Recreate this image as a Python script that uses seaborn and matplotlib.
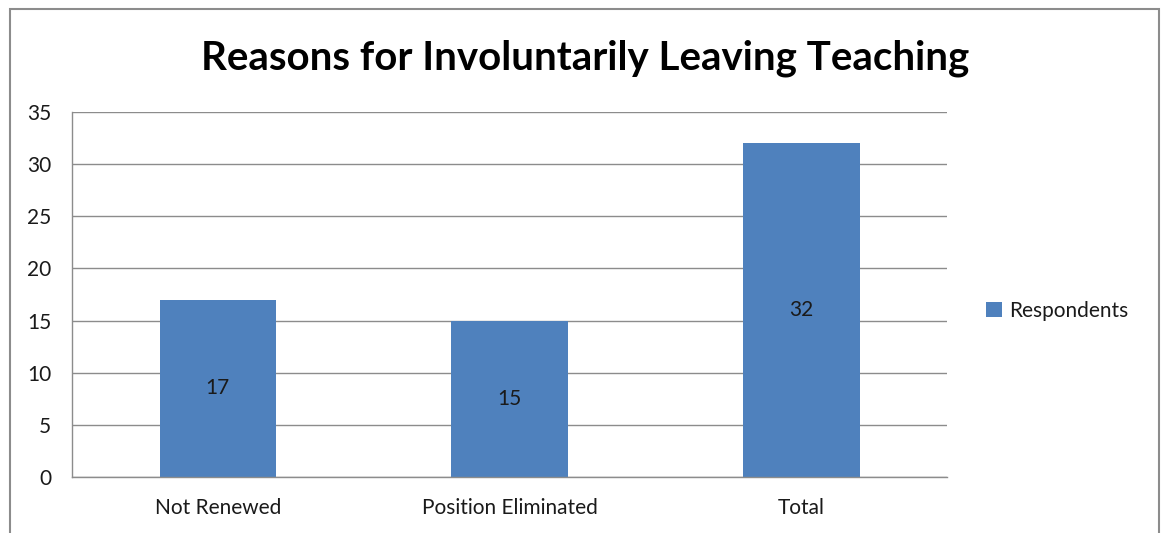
import pandas as pd
import matplotlib
matplotlib.use("Agg")
import matplotlib.pyplot as plt
import seaborn as sns
from matplotlib.patches import Rectangle, Patch

categories = ["Not Renewed", "Position Eliminated", "Total"]
respondents = [17, 15, 32]
yticks = [0, 5, 10, 15, 20, 25, 30, 35]

df = pd.DataFrame({"reason": categories, "Respondents": respondents})

sns.set_style("white")
plt.rcParams['font.family'] = ['Lato', 'DejaVu Sans']

bar_color = "#4F81BD"
grid_color = "#8C8C8C"
text_color = "#1a1a1a"
fs = 15

fig = plt.figure(figsize=(11.65, 5.33), dpi=100)
ax = fig.add_axes([72/1165, 1-477/533, (947-72)/1165, (477-112)/533])

sns.barplot(data=df, x="reason", y="Respondents", color=bar_color,
            width=0.4, ax=ax, saturation=1, linewidth=0, edgecolor="none")

ax.set_ylim(0, 35)
ax.set_xlim(-0.5, 2.5)
ax.set_yticks(yticks)
ax.set_yticklabels([str(t) for t in yticks], fontsize=fs, color=text_color)
ax.set_xlabel("")
ax.set_ylabel("")
ax.tick_params(axis="x", which="major", length=0, labelsize=fs, labelcolor=text_color, pad=15)
ax.set_xticks([-0.5, 0.5, 1.5, 2.5], minor=True)
ax.tick_params(axis="x", which="minor", length=7, color=grid_color, width=1, direction="out")
ax.tick_params(axis="y", length=7, color=grid_color, width=1, direction="out", pad=8)

ax.yaxis.grid(True, color=grid_color, linewidth=1)
ax.set_axisbelow(True)
for s in ["top", "right"]:
    ax.spines[s].set_visible(False)
for s in ["left", "bottom"]:
    ax.spines[s].set_color(grid_color)
    ax.spines[s].set_linewidth(1)

# value labels in the middle of each bar
for i, v in enumerate(respondents):
    ax.text(i, v / 2, str(v), ha="center", va="center", fontsize=fs, color=text_color)

fig.suptitle("Reasons for Involuntarily Leaving Teaching", x=0.502, y=1-58/533,
             va="center", fontsize=29, fontweight="bold", color="black")

handle = Patch(facecolor=bar_color, edgecolor="none", label="Respondents")
fig.legend(handles=[handle], loc="center left", bbox_to_anchor=(976/1165, 1-311/533),
           frameon=False, fontsize=fs, handlelength=0.75, handleheight=0.75,
           handletextpad=0.35, borderpad=0, labelcolor=text_color)

# outer chart border
fig.patches.append(Rectangle((10/1165, -0.05), (1159-10)/1165, 1.05-9/533,
                             transform=fig.transFigure, fill=False,
                             edgecolor="#8C8C8C", linewidth=1.5))

fig.savefig("out.png", dpi=100)
